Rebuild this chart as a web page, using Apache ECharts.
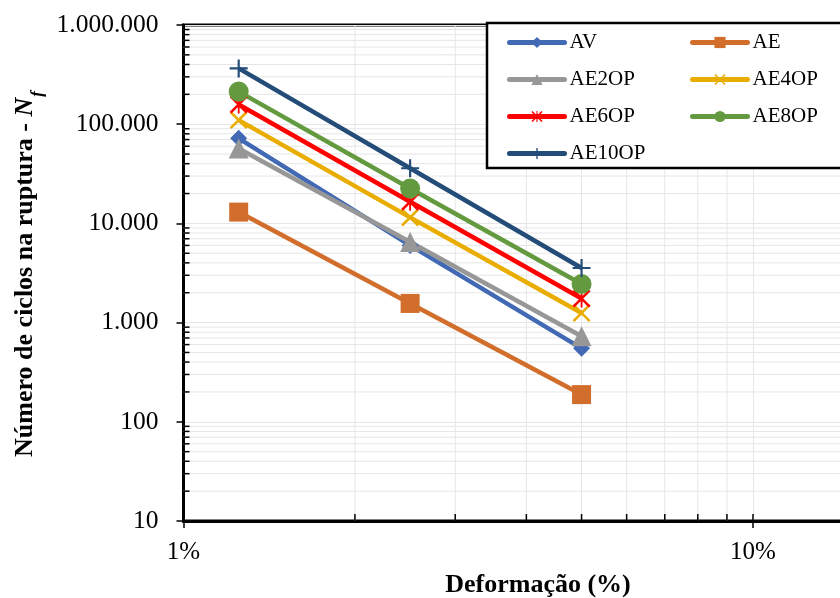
<!DOCTYPE html>
<html>
<head>
<meta charset="utf-8">
<script src="https://cdn.jsdelivr.net/npm/echarts@6/dist/echarts.min.js"></script>
<style>
  html, body { margin: 0; padding: 0; background: #fff; }
  #chart { width: 840px; height: 598px; }
</style>
</head>
<body>
<div id="chart"></div>
<script>
// Strain levels (%) and fatigue life (cycles to failure) per mixture
const strains = [1.25, 2.5, 5];
const cyclesAV = [72000, 6000, 550];
const cyclesAE = [13000, 1560, 188];
const cyclesAE2OP = [57000, 6500, 730];
const cyclesAE4OP = [110000, 11500, 1250];
const cyclesAE6OP = [158000, 16500, 1750];
const cyclesAE8OP = [213000, 22500, 2450];
const cyclesAE10OP = [365000, 36000, 3550];

// Axis ticks and their labels
const xTicks = [1, 10, 100];
const xTickLabels = ['1%', '10%', '100%'];
const yTicks = [10, 100, 1000, 10000, 100000, 1000000];
const yTickLabels = ['10', '100', '1.000', '10.000', '100.000', '1.000.000'];

const FONT = "'Liberation Serif', 'Times New Roman', serif";

// Marker shapes: thin x, asterisk and plus
const SYM_X = 'path://M0,1L1,0L10,9L9,10Z M9,0L10,1L1,10L0,9Z';
const SYM_AST = 'path://M0,1L1,0L10,9L9,10Z M9,0L10,1L1,10L0,9Z M4.5,0L5.5,0L5.5,10L4.5,10Z';
const SYM_PLUS = 'path://M4.4,0L5.6,0L5.6,10L4.4,10Z M0,4.4L10,4.4L10,5.6L0,5.6Z';

const seriesDefs = [
  { name: 'AV', data: cyclesAV, color: '#4169B4', symbol: 'diamond', size: 17 },
  { name: 'AE', data: cyclesAE, color: '#D26E2B', symbol: 'rect', size: 19 },
  { name: 'AE2OP', data: cyclesAE2OP, color: '#979797', symbol: 'triangle', size: 20 },
  { name: 'AE4OP', data: cyclesAE4OP, color: '#E9AD00', symbol: SYM_X, size: 18 },
  { name: 'AE6OP', data: cyclesAE6OP, color: '#FF0000', symbol: SYM_AST, size: 18 },
  { name: 'AE8OP', data: cyclesAE8OP, color: '#649A3F', symbol: 'circle', size: 20 },
  { name: 'AE10OP', data: cyclesAE10OP, color: '#234C78', symbol: SYM_PLUS, size: 18 }
];

// Minor grid positions (2..9 within each decade) plus inside ticks at major x values
const gridMarks = [];
for (let i = 0; i < xTicks.length - 1; i++) {
  for (let m = 2; m <= 9; m++) gridMarks.push([m * xTicks[i], yTicks[0], 0]);
}
xTicks.forEach(v => gridMarks.push([v, yTicks[0], 1]));
for (let i = 0; i < yTicks.length - 1; i++) {
  for (let m = 2; m <= 9; m++) gridMarks.push([xTicks[0], m * yTicks[i], 2]);
}

const chart = echarts.init(document.getElementById('chart'), null, { renderer: 'canvas' });

const lineSeries = seriesDefs.map(d => ({
  name: d.name,
  type: 'line',
  z: 3,
  data: strains.map((x, i) => [x, d.data[i]]),
  symbol: d.symbol,
  symbolSize: d.size,
  showAllSymbol: true,
  lineStyle: { width: 4.5, color: d.color },
  itemStyle: { color: d.color },
  emphasis: { disabled: true }
}));

const gridSeries = {
  type: 'custom',
  name: 'grid',
  z: 1,
  silent: true,
  data: gridMarks,
  renderItem: function (params, api) {
    const cs = params.coordSys;
    const kind = api.value(2);
    const p = api.coord([api.value(0), api.value(1)]);
    const gridStyle = { stroke: '#E6E6E6', lineWidth: 1 };
    const tickStyle = { stroke: '#000', lineWidth: 1.5 };
    const children = [];
    if (kind === 0 || kind === 1) {
      const x = p[0];
      const b = cs.y + cs.height;
      if (kind === 0) {
        children.push({ type: 'line', shape: { x1: x, y1: cs.y, x2: x, y2: b }, style: gridStyle });
      }
      children.push({ type: 'line', shape: { x1: x, y1: b, x2: x, y2: b - 7 }, style: tickStyle, z2: 50 });
    } else {
      const y = p[1];
      children.push({ type: 'line', shape: { x1: cs.x, y1: y, x2: cs.x + cs.width, y2: y }, style: gridStyle });
      children.push({ type: 'line', shape: { x1: cs.x, y1: y, x2: cs.x + 6, y2: y }, style: tickStyle, z2: 50 });
    }
    return { type: 'group', children: children };
  }
};

const legendCommon = {
  orient: 'vertical',
  padding: 0,
  itemWidth: 55,
  itemHeight: 14,
  itemGap: 16,
  top: 32,
  z: 12,
  selectedMode: false,
  lineStyle: { width: 5, cap: 'round' },
  textStyle: { fontFamily: FONT, fontSize: 21, color: '#000' }
};

const option = {
  animation: false,
  backgroundColor: '#fff',
  grid: {
    left: 183.5,
    top: 25,
    height: 496,
    width: 1139,
    show: true,
    borderColor: '#000',
    borderWidth: 3,
    containLabel: false,
    outerBoundsMode: 'none'
  },
  xAxis: {
    type: 'log',
    logBase: 10,
    min: xTicks[0],
    max: xTicks[xTicks.length - 1],
    axisLine: { lineStyle: { color: '#000', width: 3 } },
    axisTick: { show: true, inside: false, length: 7, lineStyle: { color: '#000', width: 1.5 } },
    splitLine: { show: true, lineStyle: { color: '#E6E6E6', width: 1 } },
    axisLabel: {
      margin: 19,
      fontFamily: FONT,
      fontSize: 25,
      color: '#000',
      formatter: v => {
        const i = xTicks.findIndex(t => Math.abs(t - v) < 1e-9 * t);
        return i >= 0 ? xTickLabels[i] : '';
      }
    }
  },
  yAxis: {
    type: 'log',
    logBase: 10,
    min: yTicks[0],
    max: yTicks[yTicks.length - 1],
    splitNumber: 5,
    axisLine: { lineStyle: { color: '#000', width: 3 } },
    axisTick: { show: true, inside: false, length: 7, lineStyle: { color: '#000', width: 1.5 } },
    splitLine: { show: true, lineStyle: { color: '#E6E6E6', width: 1 } },
    axisLabel: {
      margin: 25,
      fontFamily: FONT,
      fontSize: 25.5,
      color: '#000',
      formatter: v => {
        const i = yTicks.findIndex(t => Math.abs(t - v) < 1e-6 * t);
        return i >= 0 ? yTickLabels[i] : '';
      }
    }
  },
  legend: [
    Object.assign({}, legendCommon, { left: 507, data: ['AV', 'AE2OP', 'AE6OP', 'AE10OP'] }),
    Object.assign({}, legendCommon, { left: 690, data: ['AE', 'AE4OP', 'AE8OP'] })
  ],
  graphic: [
    {
      type: 'rect',
      z: 10,
      silent: true,
      shape: { x: 487, y: 23, width: 420, height: 145 },
      style: { fill: '#fff', stroke: '#000', lineWidth: 2.5 }
    },
    {
      type: 'text',
      z: 10,
      silent: true,
      x: 538,
      y: 585,
      style: {
        text: 'Deformação (%)',
        fontFamily: FONT,
        fontSize: 26,
        fontWeight: 'bold',
        fill: '#000',
        align: 'center',
        verticalAlign: 'middle'
      }
    },
    {
      type: 'text',
      z: 10,
      silent: true,
      x: 23,
      y: 274,
      rotation: Math.PI / 2,
      style: {
        text: '{b|Número de ciclos na ruptura - }{n|N}{s|f}',
        align: 'center',
        verticalAlign: 'middle',
        fill: '#000',
        rich: {
          b: { fontFamily: FONT, fontSize: 26, fontWeight: 'bold', fill: '#000', verticalAlign: 'bottom', lineHeight: 30 },
          n: { fontFamily: FONT, fontSize: 26, fontWeight: 'bold', fontStyle: 'italic', fill: '#000', verticalAlign: 'bottom', lineHeight: 30 },
          s: { fontFamily: FONT, fontSize: 17, fontWeight: 'bold', fontStyle: 'italic', fill: '#000', verticalAlign: 'bottom', lineHeight: 30, padding: [0, 0, -8, 1] }
        }
      }
    }
  ],
  series: [gridSeries].concat(lineSeries)
};

chart.setOption(option);
</script>
</body>
</html>
